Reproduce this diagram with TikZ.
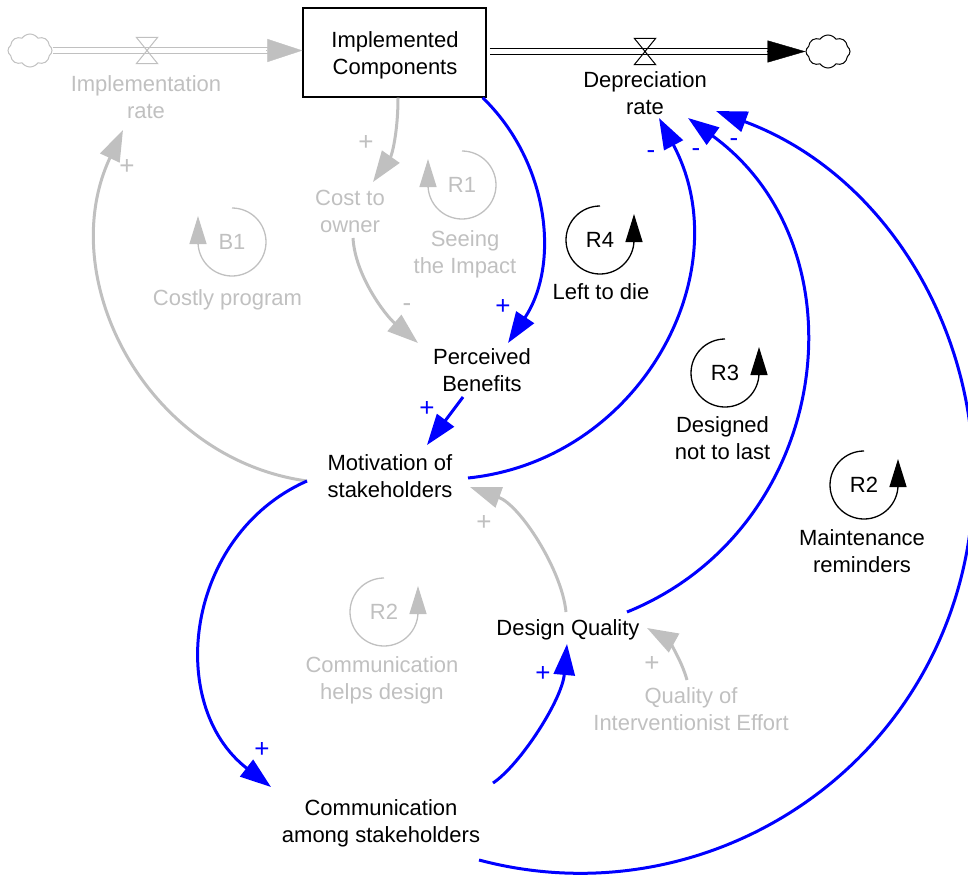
\documentclass[tikz,border=0pt]{standalone}
\usepackage{fontspec}
\setmainfont{Liberation Sans}
\usetikzlibrary{arrows.meta,calc,shapes.symbols}
\definecolor{lgray}{RGB}{192,192,192}
\definecolor{vblue}{RGB}{0,0,255}

\begin{document}
\begin{tikzpicture}[x=1pt,y=-1pt,
  every node/.style={font=\fontsize{22}{27}\selectfont, align=center, inner sep=0pt},
  ghost/.style={text=lgray},
  lnk/.style={line width=3pt, -{Triangle[length=31pt,width=21pt]}},
  blink/.style={lnk, vblue},
  glink/.style={lnk, lgray},
  sgn/.style={font=\fontsize{26}{28}\selectfont},
  bsgn/.style={sgn, text=vblue},
  gsgn/.style={sgn, text=lgray},
  loopmark/.style={line width=1.3pt, -{Triangle[length=28pt,width=17pt]}},
  pipe/.style={double=white, double distance=4.2pt, line width=1.3pt},
  valvebox/.style={minimum width=21pt, minimum height=26pt},
  cloudy/.style={cloud, cloud puffs=8, cloud puff arc=110, cloud ignores aspect, line width=1pt,
                 minimum width=44pt, minimum height=33pt},
]
\useasboundingbox (0,0) rectangle (968,875);

% ---------- stock, flows, clouds ----------
\node[draw, line width=1.3pt, minimum width=183pt, minimum height=89pt] (stock) at (394.5,52.5) {};
\node (stocktxt) at (395,55.5) {Implemented\\Components};
\node[cloudy, draw=lgray] (srcL) at (30,50.5) {};
\node[cloudy, draw=black] (sinkR) at (828,51.5) {};
\node[valvebox] (vin) at (147,50.5) {};
\node[valvebox] (vout) at (645,51.5) {};
\node[ghost] (irate) at (146,97) {Implementation\\rate};
\node (drate) at (645,93) {Depreciation\\rate};

\coordinate (inEnd) at (srcL.east -| stock.west);
\draw[pipe, lgray, shorten >=30pt] (srcL.east) -- (inEnd);
\draw[lgray, -{Triangle[length=35pt,width=23pt]}] ($(inEnd)+(-36,0)$) -- (inEnd);
\draw[lgray, line width=1pt] (vin.north west) -- (vin.north east) -- (vin.south west) -- (vin.south east) -- cycle;

\coordinate (outStart) at ($(stock.east |- sinkR.west)+(3,0)$);
\draw[pipe, black, shorten >=32pt] (outStart) -- (sinkR.west);
\draw[black, -{Triangle[length=38pt,width=22pt]}] ($(sinkR.west)+(-39,0)$) -- (sinkR.west);
\draw[black, line width=1pt] (vout.north west) -- (vout.north east) -- (vout.south west) -- (vout.south east) -- cycle;

% ---------- auxiliary variables ----------
\node[ghost] (cost) at (350,211) {Cost to\\owner};
\node (perc) at (482,370) {Perceived\\Benefits};
\node (mot) at (390,476) {Motivation of\\stakeholders};
\node (dq) at (568,630) {Design Quality};
\node[ghost] (qie) at (691,709) {Quality of\\Interventionist Effort};
\node (comm) at (381,823) {Communication\\among stakeholders};

% ---------- causal links ----------
\draw[glink] ($(stock.south)+(3.5,0)$) .. controls +(0,34) and +(19,-27) .. ($(cost)+(23,-29)$);
\draw[glink] ($(cost)+(3,27)$) .. controls +(2,37) and +(-33,-28) .. ($(perc)+(-64,-27)$);
\draw[blink] ($(stock.south east)+(-4,0)$) .. controls +(67,65) and +(52,-78) .. ($(perc)+(26,-27)$);
\draw[blink] ($(perc)+(-19,27)$) -- ($(mot)+(37,-31)$);
\draw[glink] ($(mot)+(-83,5)$) .. controls +(-160,-22) and +(-70,149) .. ($(irate)+(-23,33)$);
\draw[blink] ($(mot)+(78,2)$) .. controls +(173,-18) and +(82,153.5) .. ($(drate)+(14,25)$);
\draw[blink] ($(mot)+(-83,5)$) .. controls +(-122,54) and +(-106,-82) .. ($(comm)+(-110,-36)$);
\draw[blink] ($(comm)+(112,-40)$) .. controls +(27,-18) and +(-5,56) .. ($(dq)+(-1,14)$);
\draw[glink] ($(dq)+(-2,-18)$) .. controls +(-4,-42) and +(50,18) .. ($(mot)+(80,11)$);
\draw[glink] ($(qie)+(-4,-29)$) .. controls +(-7,-25) and +(18,10) .. ($(dq)+(79,-2)$);
\draw[blink] ($(dq)+(59,-18)$) .. controls +(205,-83) and +(180,131) .. ($(drate)+(43,25)$);
\draw[blink] ($(comm)+(98,37)$) .. controls +(203,54) and +(-63,200) .. ($(comm)+(574,-224)$)
             .. controls +(63,-200) and +(197,73) .. ($(drate)+(71,18)$);

% ---------- polarities ----------
\node[gsgn] (s1) at (366,143) {+};
\node[gsgn] (s2) at (407,308) {-};
\node[bsgn] (s3) at (503,307) {+};
\node[bsgn] (s4) at (427,409) {+};
\node[gsgn] (s5) at (127,167) {+};
\node[bsgn] (s6) at (651,155) {-};
\node[bsgn] (s7) at (262,750) {+};
\node[bsgn] (s8) at (543,674) {+};
\node[gsgn] (s9) at (484,523) {+};
\node[gsgn] (s10) at (652,664) {+};
\node[bsgn] (s11) at (696,153) {-};
\node[bsgn] (s12) at (734,143) {-};

% ---------- loop markers ----------
\node[ghost] (b1) at (232,242) {B1};
\draw[loopmark, lgray] ($(b1)+(0,-34)$) arc[start angle=90, end angle=-180, radius=34pt] -- ++(0,-26);
\node[ghost] (b1t) at (227.5,300) {Costly program};

\node[ghost] (r1) at (462,185) {R1};
\draw[loopmark, lgray] ($(r1)+(0,-34)$) arc[start angle=90, end angle=-180, radius=34pt] -- ++(0,-26);
\node[ghost] (r1t) at (465,254) {Seeing\\the Impact};

\node (r4) at (600,240) {R4};
\draw[loopmark] ($(r4)+(0,-34)$) arc[start angle=90, end angle=360, radius=34pt] -- ++(0,-26);
\node (r4t) at (601,292) {Left to die};

\node (r3) at (725,373) {R3};
\draw[loopmark] ($(r3)+(0,-34)$) arc[start angle=90, end angle=360, radius=34pt] -- ++(0,-26);
\node (r3t) at (722.5,438) {Designed\\not to last};

\node (r2m) at (864,485) {R2};
\draw[loopmark] ($(r2m)+(0,-34)$) arc[start angle=90, end angle=360, radius=34pt] -- ++(0,-26);
\node (r2mt) at (862,551.5) {Maintenance\\reminders};

\node[ghost] (r2g) at (384,612) {R2};
\draw[loopmark, lgray] ($(r2g)+(0,-34)$) arc[start angle=90, end angle=360, radius=34pt] -- ++(0,-26);
\node[ghost] (r2gt) at (382,680) {Communication\\helps design};

\end{tikzpicture}
\end{document}
